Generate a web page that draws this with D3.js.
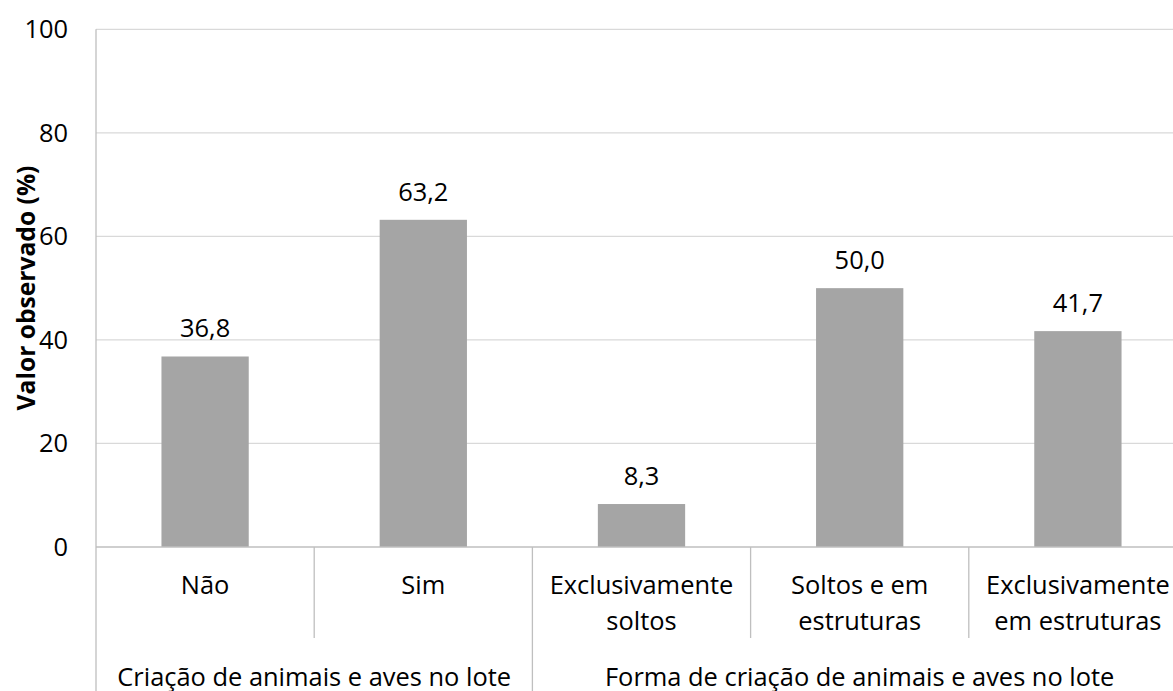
<!DOCTYPE html>
<html><head><meta charset="utf-8">
<script src="https://cdn.jsdelivr.net/npm/d3@7"></script>
<style>
html,body{margin:0;padding:0;background:#fff;}
text{font-family:"Open Sans",Lato,sans-serif;fill:#000;}
</style></head>
<body><svg id="c" width="1173" height="691"></svg>
<script>
const categories = [["Não"],["Sim"],["Exclusivamente","soltos"],["Soltos e em","estruturas"],["Exclusivamente","em estruturas"]];
const values = [36.8, 63.2, 8.3, 50.0, 41.7];
const groups = [{label:"Criação de animais e aves no lote", from:0, to:1},{label:"Forma de criação de animais e aves no lote", from:2, to:4}];
const yTicks = [0,20,40,60,80,100];
const yTitle = "Valor observado (%)";

(function(){
const svg = d3.select("#c");
const pL = 96, pR = 1187, pT = 29.3, pB = 547;
const x = d3.scaleBand().domain(d3.range(values.length)).range([pL, pR]).paddingInner(0.6).paddingOuter(0.3);
const y = d3.scaleLinear().domain([0,100]).range([pB, pT]);

// fit font size so the first group label has the reference width (~394px)
const probe = svg.append("text").style("font-size","20px").text(groups[0].label);
const fs = 20 * 394 / probe.node().getComputedTextLength();
probe.remove();
const probe2 = svg.append("text").style("font-size","20px").style("font-weight","bold").text(yTitle);
const fsT = 20 * 245 / probe2.node().getComputedTextLength();
probe2.remove();

svg.append("g").selectAll("line").data(yTicks.filter(d=>d>0)).join("line")
  .attr("x1", pL).attr("x2", pR).attr("y1", d=>y(d)).attr("y2", d=>y(d))
  .attr("stroke", "#d9d9d9").attr("stroke-width", 1.3);

svg.append("g").selectAll("text").data(yTicks).join("text")
  .attr("x", 68).attr("y", d=>y(d)).attr("dy","0.35em").attr("text-anchor","end")
  .style("font-size", fs+"px").text(d=>d);

svg.append("g").selectAll("rect").data(values).join("rect")
  .attr("x", (d,i)=>x(i)).attr("width", x.bandwidth())
  .attr("y", d=>y(d)).attr("height", d=>y(0)-y(d)).attr("fill", "#a5a5a5");

svg.append("g").selectAll("text").data(values).join("text")
  .attr("x", (d,i)=>x(i)+x.bandwidth()/2).attr("y", d=>y(d)-19).attr("text-anchor","middle")
  .style("font-size", fs+"px").text(d=>d3.format(".1f")(d).replace(".", ","));

const ax = svg.append("g").attr("stroke","#bfbfbf").attr("stroke-width",1.3);
ax.append("line").attr("x1",pL).attr("x2",pR).attr("y1",pB).attr("y2",pB);
ax.append("line").attr("x1",pL).attr("x2",pL).attr("y1",pT).attr("y2",691);
const step = x.step();
for (let i=1;i<values.length;i++){
  const sx = x(i) - (step - x.bandwidth())/2;
  const isGroup = groups.some(g=>g.from===i);
  ax.append("line").attr("x1",sx).attr("x2",sx).attr("y1",pB).attr("y2", isGroup?691:638);
}

const cl = svg.append("g");
categories.forEach((lines,i)=>{
  const t = cl.append("text").attr("text-anchor","middle").style("font-size", fs+"px");
  lines.forEach((ln,j)=>{
    t.append("tspan").attr("x", x(i)+x.bandwidth()/2).attr("y", 594 + j*36).text(ln);
  });
});

groups.forEach(g=>{
  const x0 = x(g.from) - (step - x.bandwidth())/2;
  const x1 = x(g.to) + x.bandwidth() + (step - x.bandwidth())/2;
  svg.append("text").attr("x",(x0+x1)/2).attr("y",686).attr("text-anchor","middle")
    .style("font-size", fs+"px").text(g.label);
});

svg.append("text").attr("transform","translate(35,288) rotate(-90)").attr("text-anchor","middle")
  .style("font-size",fsT+"px").style("font-weight","bold").text(yTitle);
})();
</script></body></html>
